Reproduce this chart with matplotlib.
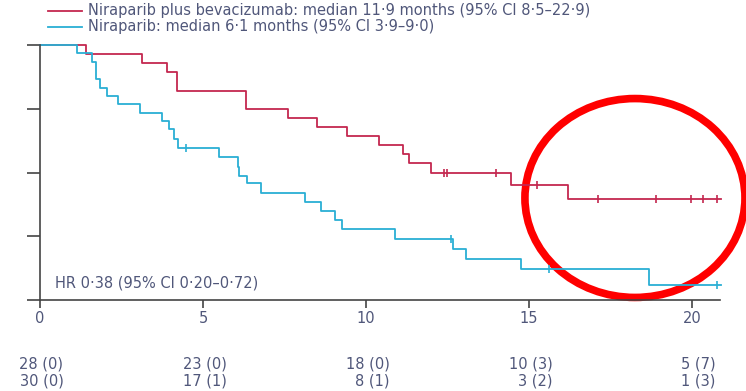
"""Kaplan-Meier curves: niraparib plus bevacizumab vs niraparib alone."""

import numpy as np
import matplotlib
matplotlib.use("Agg")
import matplotlib.pyplot as plt
from matplotlib.patches import Ellipse
from matplotlib.transforms import blended_transform_factory

RED = "#c4274f"
BLUE = "#2aafd4"
TEXT = "#50577a"

# step curves (time in months, survival proportion)
red_times = [0, 1.41, 3.14, 3.90, 4.21, 6.31, 7.61, 8.49, 9.41, 10.40,
             11.12, 11.33, 11.99, 14.45, 16.19]
red_surv = [1.0, 0.964, 0.929, 0.893, 0.821, 0.750, 0.714, 0.679, 0.643, 0.607,
            0.571, 0.536, 0.500, 0.451, 0.396]
red_censor = [12.40, 12.48, 13.98, 15.25, 17.13, 18.90, 19.97, 20.33, 20.76]

blue_times = [0, 1.12, 1.61, 1.72, 1.84, 2.07, 2.40, 3.07, 3.75, 3.97, 4.12, 4.24,
              5.49, 6.06, 6.11, 6.34, 6.77, 8.13, 8.62, 9.05, 9.27, 10.90,
              12.68, 13.06, 14.74, 18.67]
blue_surv = [1.0, 0.967, 0.935, 0.865, 0.833, 0.800, 0.770, 0.735, 0.702, 0.669,
             0.630, 0.598, 0.562, 0.523, 0.486, 0.458, 0.421, 0.386, 0.349,
             0.314, 0.278, 0.238, 0.200, 0.160, 0.120, 0.058]
blue_censor = [4.48, 12.60, 15.62, 20.76]

END_TIME = 20.9

risk_ticks = [0, 5, 10, 15, 20]
risk_red = ["28 (0)", "23 (0)", "18 (0)", "10 (3)", "5 (7)"]
risk_blue = ["30 (0)", "17 (1)", "8 (1)", "3 (2)", "1 (3)"]

legend_red = "Niraparib plus bevacizumab: median 11\u00b79 months (95% CI 8\u00b75\u201322\u00b79)"
legend_blue = "Niraparib: median 6\u00b71 months (95% CI 3\u00b79\u20139\u00b70)"
hr_text = "HR 0\u00b738 (95% CI 0\u00b720\u20130\u00b772)"

FS = 10.5


def surv_at(times, surv, t):
    idx = np.searchsorted(times, t, side="right") - 1
    return surv[idx]


def draw_curve(ax, times, surv, censor, color):
    xs = list(times) + [END_TIME]
    ys = list(surv) + [surv[-1]]
    ax.step(xs, ys, where="post", color=color, linewidth=1.3, clip_on=False)
    cy = [surv_at(times, surv, t) for t in censor]
    ax.plot(censor, cy, linestyle="none", marker="|", markersize=6,
            markeredgewidth=1.2, color=color, clip_on=False)


def main() -> None:
    fig = plt.figure(figsize=(7.46, 3.91), dpi=100)
    ax = fig.add_axes([40 / 746, 1 - 300 / 391, 680 / 746, 255 / 391])

    draw_curve(ax, red_times, red_surv, red_censor, RED)
    draw_curve(ax, blue_times, blue_surv, blue_censor, BLUE)

    ax.set_xlim(0, 680 / 32.6)
    ax.set_ylim(0, 1)
    for side in ("top", "right"):
        ax.spines[side].set_visible(False)
    for side in ("left", "bottom"):
        ax.spines[side].set_color("#444444")
        ax.spines[side].set_linewidth(1.2)

    ax.set_xticks(risk_ticks)
    ax.set_yticks([0, 0.25, 0.5, 0.75, 1.0])
    ax.set_yticklabels([])
    ax.tick_params(axis="y", direction="out", length=9.5, width=1.2, color="#444444")
    ax.tick_params(axis="x", direction="out", length=6, width=1.2, color="#444444",
                   labelsize=FS, labelcolor=TEXT, pad=2)

    ax.text(0.45, 0.05, hr_text, fontsize=FS, color=TEXT)

    # legend drawn by hand at top left
    for y, color, label in [(11, RED, legend_red), (27, BLUE, legend_blue)]:
        fy = 1 - y / 391
        fig.add_artist(plt.Line2D([48 / 746, 82 / 746], [fy, fy], color=color,
                                  linewidth=1.3, transform=fig.transFigure))
        fig.text(88 / 746, fy, label, fontsize=FS, color=TEXT, va="center")

    # numbers at risk below the axis
    trans = blended_transform_factory(ax.transData, fig.transFigure)
    for t, r, b in zip(risk_ticks, risk_red, risk_blue):
        xr = t + 0.72
        fig.text(xr, 1 - 364 / 391, r, transform=trans, ha="right", va="center",
                 fontsize=FS, color=TEXT)
        fig.text(xr, 1 - 381 / 391, b, transform=trans, ha="right", va="center",
                 fontsize=FS, color=TEXT)

    # red highlight ring
    ring = Ellipse((18.25, 0.40), width=6.75, height=0.78, fill=False,
                   edgecolor="#ff0000", linewidth=5.5, clip_on=False)
    ax.add_patch(ring)

    fig.savefig("out.png", dpi=100)
    plt.close(fig)


if __name__ == "__main__":
    main()
